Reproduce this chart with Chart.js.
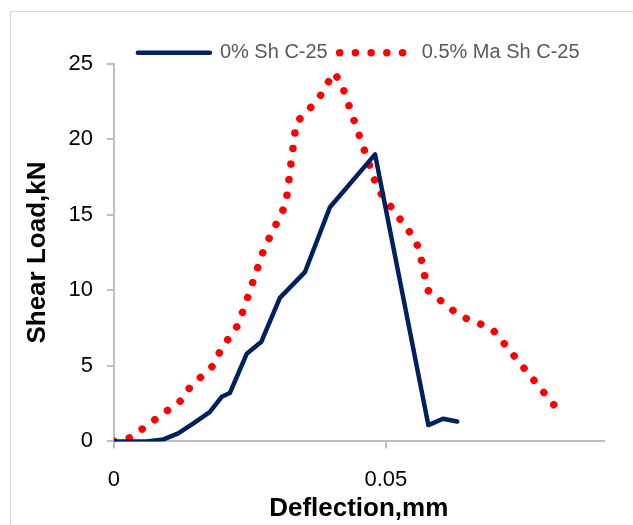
<!DOCTYPE html>
<html>
<head>
<meta charset="utf-8">
<script src="https://cdn.jsdelivr.net/npm/chart.js@4.4.0/dist/chart.umd.min.js"></script>
<style>
    html, body { margin: 0; padding: 0; background: #fff; overflow: hidden; }
    #wrap { position: relative; width: 633px; height: 525px; }
    #frame { position: absolute; left: 10px; top: 11px; width: 700px; height: 600px; border: 1px solid #d9d9d9; }
    canvas { position: absolute; left: 0; top: 0; }
</style>
</head>
<body>
<div id="wrap">
    <div id="frame"></div>
    <canvas id="chart" width="633" height="525"></canvas>
</div>
<script>
// 0% Sh C-25
const plainX = [0, 0.006, 0.0091, 0.0118, 0.0146, 0.0176, 0.0198, 0.0213, 0.0244, 0.0271, 0.0305, 0.0351, 0.0397, 0.048, 0.0578, 0.0605, 0.0631];
const plainY = [0, 0, 0.13, 0.53, 1.19, 1.94, 2.95, 3.2, 5.8, 6.6, 9.5, 11.2, 15.5, 19.0, 1.08, 1.5, 1.32];

// 0.5% Ma Sh C-25
const fiberX = [0, 0.0031, 0.0123, 0.014, 0.0182, 0.0197, 0.0226, 0.0239, 0.0276, 0.0316, 0.0335, 0.0375, 0.0404, 0.0417, 0.0485, 0.0555, 0.0563, 0.0577, 0.0636, 0.0654, 0.0695, 0.0719, 0.0825];
const fiberY = [0, 0.26, 2.7, 3.6, 5.0, 6.1, 7.6, 8.8, 12.75, 15.7, 21.1, 22.6, 24.4, 23.8, 16.7, 13.3, 12.35, 10.0, 8.3, 8.05, 7.46, 6.4, 1.7];

const seriesNames = ['0% Sh C-25', '0.5% Ma Sh C-25'];
const xTicks = [0, 0.05];
const yTicks = [0, 5, 10, 15, 20, 25];

const colors = {
    navy: '#002060',
    red: '#ff0000',
    axis: '#bfbfbf',
    legendText: '#595959'
};

const toPoints = (xs, ys) => xs.map((x, i) => ({ x, y: ys[i] }));

Chart.defaults.font.family = '"Liberation Sans", Arial, sans-serif';
Chart.defaults.color = '#000';

// pushes the legend row a little lower than the layout gives it
const legendNudge = {
    id: 'legendNudge',
    afterLayout(chart) {
        chart.legend.top += 9;
        chart.legend.bottom += 9;
    }
};

const axisGrid = { drawOnChartArea: false, tickLength: 7, color: colors.axis, lineWidth: 2 };
const axisBorder = { color: colors.axis, width: 2 };

// legend with point style reads the point, not the line, so copy the dash back in
function legendLabels(chart) {
    const items = Chart.defaults.plugins.legend.labels.generateLabels(chart);
    return items.map((item, i) => {
        const ds = chart.data.datasets[i];
        return { ...item, lineDash: ds.borderDash || [], lineCap: 'round', lineWidth: ds.borderWidth };
    });
}

new Chart(document.getElementById('chart'), {
    type: 'line',
    data: {
        datasets: [{
            label: seriesNames[0],
            data: toPoints(plainX, plainY),
            borderColor: colors.navy,
            backgroundColor: colors.navy,
            borderWidth: 4.5,
            borderCapStyle: 'round',
            borderJoinStyle: 'round',
            pointRadius: 0,
            tension: 0
        }, {
            label: seriesNames[1],
            data: toPoints(fiberX, fiberY),
            borderColor: colors.red,
            backgroundColor: colors.red,
            borderWidth: 7.5,
            borderDash: [0.01, 15.7],
            borderCapStyle: 'round',
            pointRadius: 0,
            tension: 0
        }]
    },
    options: {
        responsive: false,
        animation: false,
        layout: { padding: { left: 10, right: 29.5, top: 21.7, bottom: 0.6 } },
        plugins: {
            tooltip: { enabled: false },
            legend: {
                position: 'top',
                fullSize: false,
                labels: {
                    usePointStyle: true,
                    pointStyle: 'line',
                    pointStyleWidth: 72,
                    padding: 12,
                    color: colors.legendText,
                    font: { size: 20 },
                    generateLabels: legendLabels
                }
            }
        },
        scales: {
            x: {
                type: 'linear',
                min: 0,
                max: 0.09,
                afterBuildTicks: axis => { axis.ticks = xTicks.map(v => ({ value: v })); },
                afterFit: axis => { axis.height = 83; },
                ticks: { padding: 18.4, maxRotation: 0, font: { size: 22 }, color: '#000' },
                grid: axisGrid,
                border: axisBorder,
                title: {
                    display: true,
                    text: 'Deflection,mm',
                    color: '#000',
                    font: { size: 26, weight: 'bold' },
                    padding: { top: 0, bottom: 0 }
                }
            },
            y: {
                min: 0,
                max: 25,
                afterBuildTicks: axis => { axis.ticks = yTicks.map(v => ({ value: v })); },
                ticks: { padding: 14, font: { size: 22 }, color: '#000' },
                grid: axisGrid,
                border: axisBorder,
                title: {
                    display: true,
                    text: 'Shear Load,kN',
                    color: '#000',
                    font: { size: 26, weight: 'bold' },
                    padding: { top: 12.4, bottom: 0.9 }
                }
            }
        }
    },
    plugins: [legendNudge]
});
</script>
</body>
</html>
